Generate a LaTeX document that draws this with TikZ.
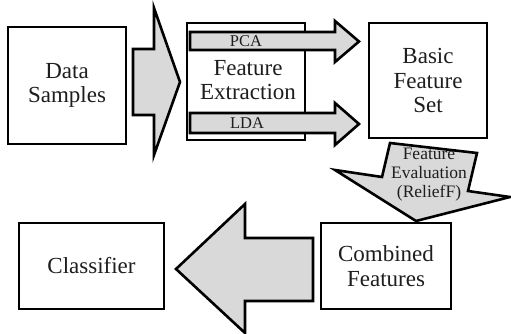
\documentclass[tikz,border=0pt]{standalone}
\usepackage{fontspec}
\setmainfont{Liberation Serif}
\newfontfamily\timesfont{Liberation Serif}
\definecolor{arrowgray}{RGB}{217,217,217}
\definecolor{textcol}{RGB}{30,30,30}
\begin{document}
\begin{tikzpicture}[x=1pt,y=-1pt,
  box/.style={draw, line width=2.6pt, fill=white, inner sep=0pt, text=textcol,
              font=\timesfont\fontsize{23}{24.5}\selectfont, align=center},
  blockarrow/.style={draw, line width=2.6pt, fill=arrowgray, line join=miter},
  small/.style={font=\timesfont\fontsize{16.5}{19}\selectfont, align=center, inner sep=0pt, text=textcol}]
\useasboundingbox (0,0) rectangle (511,334);
% boxes
\node[box, minimum width=118pt, minimum height=117pt] (data) at (67,85.5) {Data\\Samples};
\node[box, minimum width=118pt, minimum height=117pt] (fext) at (246,81.5) {};
\node[box, minimum width=118pt, minimum height=115pt] (basic) at (428,80.5) {Basic\\Feature\\Set};
\node[box, minimum width=130pt, minimum height=86pt] (comb) at (386,266) {Combined\\Features};
\node[box, minimum width=145pt, minimum height=86pt] (clf) at (91.5,266) {Classifier};
% arrow data -> feature extraction
\draw[blockarrow] (133,49) -- (154,49) -- (154,8) -- (180,82) -- (154,155) -- (154,115) -- (133,115) -- cycle;
% PCA arrow
\draw[blockarrow] (190,32) -- (335,32) -- (335,21) -- (359,41.5) -- (335,62) -- (335,50) -- (190,50) -- cycle;
\node[small] (pca) at (246,41.5) {PCA};
% LDA arrow
\draw[blockarrow] (190,113) -- (335,113) -- (335,103) -- (359,124) -- (335,145) -- (335,133) -- (190,133) -- cycle;
\node[small] (lda) at (247,123) {LDA};
% feature extraction text
\node[box, draw=none, fill=none] (fexttext) at (248,80) {Feature\\Extraction};
% tilted arrow
\draw[blockarrow] (390,143) -- (477,153) -- (468,191) -- (510,197) -- (416,221) -- (335,170) -- (382,177) -- cycle;
\node[small, font=\timesfont\fontsize{17.5}{19}\selectfont] (feval) at (429,175) {Feature\\Evaluation\\(ReliefF)};
% big left arrow
\draw[blockarrow] (313,238) -- (245,238) -- (245,204) -- (176,269) -- (245,333) -- (245,301) -- (313,301) -- cycle;
\end{tikzpicture}
\end{document}
